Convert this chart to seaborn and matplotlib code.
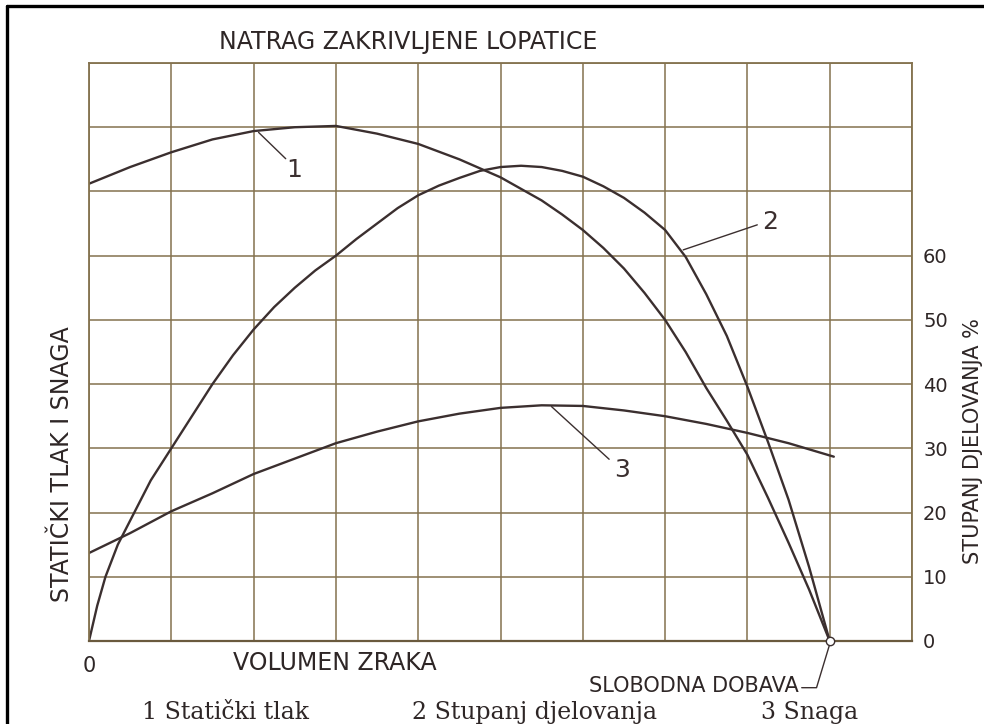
import matplotlib
matplotlib.use("Agg")
import matplotlib.pyplot as plt
import seaborn as sns
import pandas as pd
from matplotlib.lines import Line2D

# ---------------- texts ----------------
title = "NATRAG ZAKRIVLJENE LOPATICE"
xlabel = "VOLUMEN ZRAKA"
ylabel_left = "STATIČKI TLAK I SNAGA"
ylabel_right = "STUPANJ DJELOVANJA %"
free_delivery_label = "SLOBODNA DOBAVA"
legend_entries = ["1 Statički tlak", "2 Stupanj djelovanja", "3 Snaga"]
curve_labels = ["1", "2", "3"]

# ---------------- axes ----------------
x_ticks = list(range(0, 11))
x_ticklabels = ["0"] + [""] * 10
y_grid = list(range(0, 91, 10))
right_ticks = [0, 10, 20, 30, 40, 50, 60]
right_ticklabels = ["0", "10", "20", "30", "40", "50", "60"]

# ---------------- data ----------------
x_pressure = [0, 0.5, 1, 1.5, 2, 2.5, 3, 3.5, 4, 4.5, 5, 5.5, 5.75, 6, 6.25,
              6.5, 6.75, 7, 7.25, 7.5, 7.75, 8, 8.25, 8.5, 8.75, 9]
y_pressure = [71.2, 73.8, 76.1, 78.1, 79.4, 80.0, 80.2, 79.0, 77.4, 75.0, 72.2,
              68.6, 66.4, 64.0, 61.2, 58.0, 54.2, 50.0, 45.0, 39.4, 34.3,
              29.0, 22.3, 15.3, 8.0, 0]

x_efficiency = [0, 0.1, 0.2, 0.35, 0.55, 0.75, 1.0, 1.25, 1.5, 1.75, 2, 2.25,
                2.5, 2.75, 3, 3.25, 3.5, 3.75, 4, 4.25, 4.5, 4.75, 5, 5.25,
                5.5, 5.75, 6, 6.25, 6.5, 6.75, 7, 7.25, 7.5, 7.75, 8, 8.25,
                8.5, 8.75, 9]
y_efficiency = [0, 5.5, 10, 15, 20, 25, 30, 35, 40, 44.5, 48.5, 52.0,
                55.0, 57.7, 60.0, 62.6, 65.0, 67.4, 69.4, 70.9, 72.1, 73.2,
                73.8, 74.0, 73.8, 73.2, 72.3, 70.8, 69.0, 66.7, 64.0, 59.8,
                54.0, 47.5, 39.6, 31.0, 22.0, 11.5, 0]

x_power = [0, 0.5, 1, 1.5, 2, 2.5, 3, 3.5, 4, 4.5, 5, 5.5, 6, 6.5, 7, 7.5,
           8, 8.5, 9.05]
y_power = [13.7, 16.8, 20.2, 23.0, 26.0, 28.4, 30.8, 32.6, 34.2, 35.4, 36.3,
           36.7, 36.6, 35.9, 35.0, 33.8, 32.4, 30.8, 28.7]

free_delivery_x = [9]
free_delivery_y = [0]

# label leaders: (curve point) -> (label end), label position
leader_start_x = [2.06, 7.22, 5.62]
leader_start_y = [79.2, 60.9, 36.5]
leader_end_x = [2.39, 8.12, 6.32]
leader_end_y = [75.1, 64.8, 28.3]
label_x = [2.49, 8.28, 6.48]
label_y = [73.4, 65.2, 26.6]

# ---------------- style ----------------
sns.set_style("white")
plt.rcParams['font.family'] = ['DejaVu Sans']

curve_color = "#3b2f2f"
grid_color = "#84724e"
text_color = "#2e2626"

W, H = 984, 724
fig = plt.figure(figsize=(W / 100, H / 100), dpi=100)
fig.patch.set_facecolor("white")

L_px, R_px, T_px, B_px = 89, 912, 63, 641
ax = fig.add_axes([L_px / W, 1 - B_px / H, (R_px - L_px) / W, (B_px - T_px) / H])

frames = []
for name, xs, ys in [("1", x_pressure, y_pressure),
                     ("2", x_efficiency, y_efficiency),
                     ("3", x_power, y_power)]:
    frames.append(pd.DataFrame({"x": xs, "y": ys, "curve": name}))
df = pd.concat(frames, ignore_index=True)

sns.lineplot(data=df, x="x", y="y", units="curve", estimator=None, sort=False,
             color=curve_color, lw=1.7, ax=ax, legend=False)

ax.set_xlim(0, 10)
ax.set_ylim(0, 90)
ax.set_xticks(x_ticks)
ax.set_xticklabels(x_ticklabels, fontsize=15, color=text_color)
ax.set_yticks(y_grid)
ax.set_yticklabels([])
ax.tick_params(axis="both", length=0)
ax.tick_params(axis="x", pad=11)
ax.grid(True, color=grid_color, lw=1.1)
ax.set_axisbelow(True)
for s in ax.spines.values():
    s.set_color(grid_color)
    s.set_linewidth(1.3)
ax.spines["bottom"].set_color("#6a5a3e")
ax.spines["bottom"].set_linewidth(1.6)
ax.set_ylabel("")

ax.set_xlabel(xlabel, fontsize=17, color=text_color)
ax.xaxis.set_label_coords((335 - L_px) / (R_px - L_px), -0.018)

ax2 = ax.twinx()
ax2.set_ylim(0, 90)
ax2.set_yticks(right_ticks)
ax2.set_yticklabels(right_ticklabels, fontsize=14, color=text_color)
ax2.tick_params(axis="y", length=0, pad=8)
for s in ax2.spines.values():
    s.set_visible(False)

# axis titles (rotated)
ax.text((62 - L_px) / (R_px - L_px), (B_px - 464) / (B_px - T_px), ylabel_left,
        transform=ax.transAxes, rotation=90, ha="center", va="center",
        fontsize=17, color=text_color)
ax.text((973 - L_px) / (R_px - L_px), (B_px - 441) / (B_px - T_px), ylabel_right,
        transform=ax.transAxes, rotation=90, ha="center", va="center",
        fontsize=15, color=text_color)

# curve labels with leaders
for i in range(3):
    ax.plot([leader_start_x[i], leader_end_x[i]], [leader_start_y[i], leader_end_y[i]],
            color=curve_color, lw=1.0)
    ax.text(label_x[i], label_y[i], curve_labels[i], fontsize=18,
            ha="center", va="center", color=curve_color)

# free delivery point and label
ax.plot(free_delivery_x, free_delivery_y, marker="o", ms=6, mfc="white",
        mec=curve_color, mew=1.0, ls="none", clip_on=False, zorder=5)
ax.plot([8.66, 8.84, free_delivery_x[0]], [-7.27, -7.27, -0.5],
        color=curve_color, lw=1.0, clip_on=False)
ax.text(8.63, -7.0, free_delivery_label, ha="right", va="center",
        fontsize=15, color=text_color, clip_on=False)

# title
fig.text(408 / W, 1 - 42 / H, title, ha="center", va="center",
         fontsize=17, color=text_color)

# legend line (serif)
legend_cx = [225, 535, 810]
for txt, cx in zip(legend_entries, legend_cx):
    fig.text(cx / W, 1 - 719 / H, txt, ha="center", va="baseline",
             fontsize=17, color=text_color, family=["DejaVu Serif"])

# black frame (top and left)
fig.add_artist(Line2D([7 / W, 7 / W], [0, 1 - 6 / H], transform=fig.transFigure,
                      color="black", lw=2.4))
fig.add_artist(Line2D([7 / W, 1], [1 - 6 / H, 1 - 6 / H], transform=fig.transFigure,
                      color="black", lw=2.4))

fig.savefig("out.png", dpi=100, facecolor="white")
